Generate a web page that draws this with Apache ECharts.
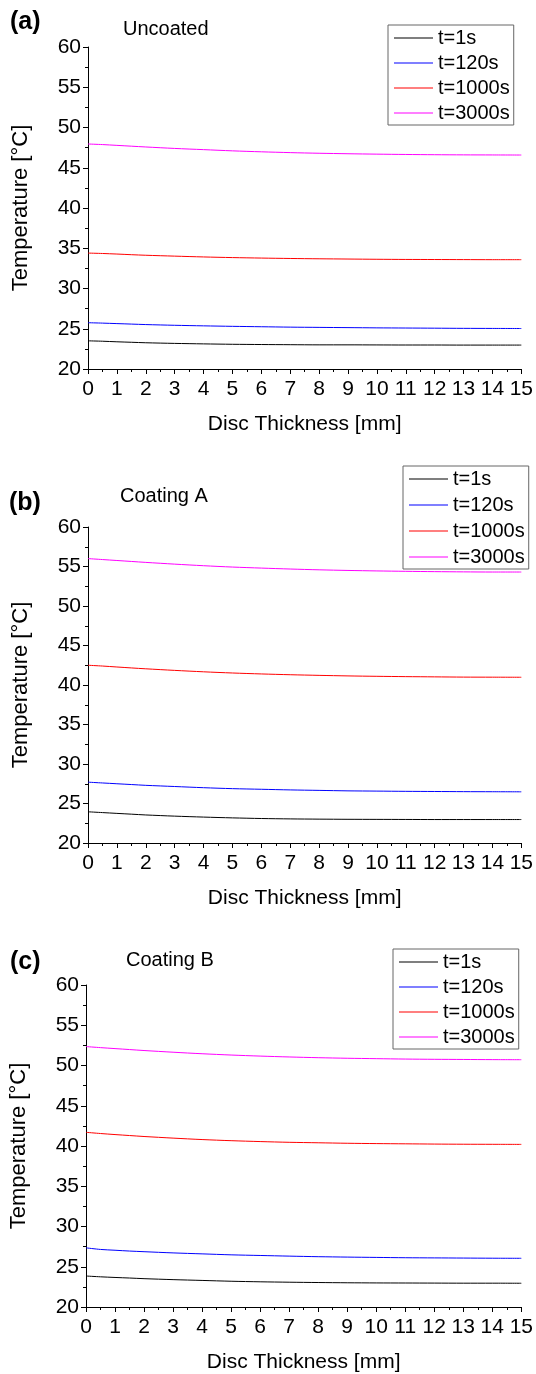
<!DOCTYPE html>
<html><head><meta charset="utf-8">
<script src="https://cdn.jsdelivr.net/npm/echarts@6/dist/echarts.min.js"></script>
<style>html,body{margin:0;padding:0;background:#fff}#c{width:536px;height:1374px}</style>
</head><body><div id="c"></div>
<script>
const thickness = [0,0.5,1,1.5,2,3,4,5,6,7,8,9,10,11,12,13,14,15];
const seriesNames = ['t=1s','t=120s','t=1000s','t=3000s'];
const panelLetters = ['(a)','(b)','(c)'];
const panelTitles = ['Uncoated','Coating A','Coating B'];
const xTickLabels = ['0','1','2','3','4','5','6','7','8','9','10','11','12','13','14','15'];
const yTickLabels = ['20','25','30','35','40','45','50','55','60'];

const a_t1    = [23.5,23.45,23.38,23.32,23.26,23.18,23.12,23.07,23.04,23.02,23.0,23.0,22.99,22.98,22.98,22.97,22.97,22.97];
const a_t120  = [25.75,25.7,25.64,25.58,25.52,25.43,25.36,25.3,25.25,25.2,25.17,25.14,25.11,25.09,25.07,25.05,25.04,25.03];
const a_t1000 = [34.4,34.35,34.28,34.2,34.13,34.02,33.92,33.84,33.78,33.73,33.69,33.66,33.63,33.61,33.6,33.59,33.58,33.58];
const a_t3000 = [47.95,47.88,47.78,47.68,47.58,47.4,47.25,47.1,46.98,46.88,46.8,46.74,46.69,46.65,46.62,46.6,46.59,46.58];

const b_t1    = [23.95,23.85,23.75,23.65,23.55,23.4,23.28,23.18,23.1,23.05,23.02,23.0,22.99,22.98,22.97,22.97,22.97,22.97];
const b_t120  = [27.7,27.6,27.5,27.4,27.3,27.15,27.0,26.88,26.8,26.72,26.66,26.6,26.57,26.54,26.52,26.5,26.49,26.48];
const b_t1000 = [42.5,42.4,42.28,42.16,42.05,41.85,41.67,41.52,41.4,41.3,41.22,41.15,41.1,41.06,41.03,41.0,40.99,40.98];
const b_t3000 = [56.0,55.88,55.76,55.64,55.52,55.3,55.1,54.93,54.8,54.68,54.58,54.5,54.44,54.39,54.35,54.32,54.3,54.3];

const c_t1    = [23.85,23.75,23.67,23.6,23.52,23.4,23.3,23.2,23.13,23.08,23.04,23.01,22.99,22.98,22.97,22.96,22.96,22.95];
const c_t120  = [27.35,27.15,27.05,26.95,26.87,26.72,26.6,26.48,26.4,26.32,26.25,26.2,26.16,26.12,26.1,26.08,26.06,26.05];
const c_t1000 = [41.7,41.55,41.42,41.3,41.18,40.98,40.8,40.66,40.55,40.46,40.4,40.34,40.3,40.27,40.24,40.22,40.21,40.2];
const c_t3000 = [52.35,52.22,52.1,51.98,51.86,51.65,51.46,51.3,51.17,51.06,50.97,50.9,50.85,50.8,50.77,50.75,50.73,50.72];

const panels = [[a_t1,a_t120,a_t1000,a_t3000],[b_t1,b_t120,b_t1000,b_t3000],[c_t1,c_t120,c_t1000,c_t3000]];
const colors = ['#000000','#0000ff','#ff0000','#ff00ff'];

const FONT = '"Liberation Sans", Arial, sans-serif';
const grids = [
  {left:88, top:47, width:437, height:322},
  {left:88, top:527, width:437, height:316},
  {left:86, top:985, width:439, height:322}
];
const letterPos = [{left:10,top:10},{left:9,top:491},{left:10,top:950}];
const titlePos = [{left:123,top:19},{left:120,top:486},{left:126,top:950}];
const legendPos = [{left:388,top:25},{left:403,top:466},{left:393,top:949}];
const legendGaps = [5,6,5];

const axisCommon = {
  axisLine:{show:true,onZero:false,lineStyle:{color:'#000',width:1}},
  axisTick:{show:true,inside:false,length:5,lineStyle:{color:'#000',width:1}},
  minorTick:{show:true,splitNumber:2,length:3,lineStyle:{color:'#000',width:1}},
  splitLine:{show:false}
};

const option = {
  animation:false,
  backgroundColor:'#fff',
  title:[],
  legend:[],
  grid:grids,
  xAxis:[], yAxis:[], series:[]
};

for (let p=0;p<3;p++){
  option.title.push({text:panelLetters[p],left:letterPos[p].left,top:letterPos[p].top,padding:0,
    textStyle:{fontFamily:FONT,fontWeight:'bold',fontSize:25,color:'#000'}});
  option.title.push({text:panelTitles[p],left:titlePos[p].left,top:titlePos[p].top,padding:0,
    textStyle:{fontFamily:FONT,fontWeight:'normal',fontSize:20,color:'#000'}});
  option.legend.push({
    data:seriesNames, orient:'vertical', left:legendPos[p].left, top:legendPos[p].top,
    icon:'rect', itemWidth:39, itemHeight:1.2, itemGap:legendGaps[p], padding:[3,4,2,6],
    borderColor:'#666', borderWidth:1, backgroundColor:'#fff',
    selectedMode:false,
    textStyle:{fontFamily:FONT,fontSize:20,lineHeight:20,color:'#000'}
  });
  option.xAxis.push(Object.assign({}, JSON.parse(JSON.stringify(axisCommon)), {
    type:'value', gridIndex:p, min:0, max:15, interval:1,
    name:'Disc Thickness [mm]', nameLocation:'middle', nameGap:45,
    nameTextStyle:{fontFamily:FONT,fontSize:21,color:'#000'},
    axisLabel:{color:'#000',fontSize:21,fontFamily:FONT,margin:10,
      formatter:(v)=>xTickLabels[Math.round(v)] ?? ''}
  }));
  option.yAxis.push(Object.assign({}, JSON.parse(JSON.stringify(axisCommon)), {
    type:'value', gridIndex:p, min:20, max:60, interval:5,
    name:'Temperature [°C]', nameLocation:'middle', nameGap:56,
    nameTextStyle:{fontFamily:FONT,fontSize:22,color:'#000'},
    axisLabel:{color:'#000',fontSize:21,fontFamily:FONT,margin:7,
      formatter:(v)=>yTickLabels[Math.round((v-20)/5)] ?? ''}
  }));
  for (let s=0;s<4;s++){
    option.series.push({
      type:'line', name:seriesNames[s], xAxisIndex:p, yAxisIndex:p,
      data:thickness.map((x,i)=>[x,panels[p][s][i]]),
      symbol:'none', smooth:0.3, color:colors[s],
      itemStyle:{color:colors[s]},
      lineStyle:{color:colors[s],width:1}
    });
  }
}

const chart = echarts.init(document.getElementById('c'),null,{renderer:'canvas'});
chart.setOption(option);
</script></body></html>
